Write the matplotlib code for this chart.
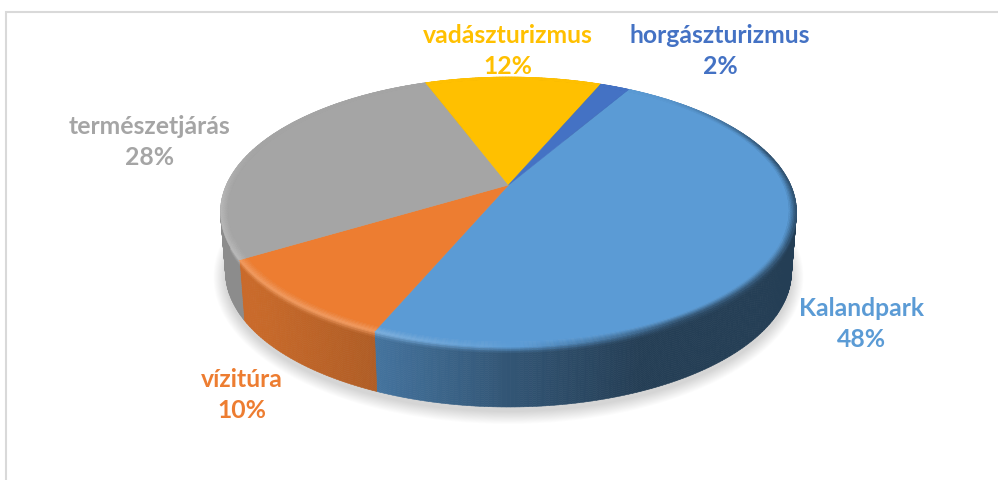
import matplotlib
matplotlib.use('Agg')
import matplotlib.pyplot as plt
from matplotlib.collections import PolyCollection
from matplotlib.colors import to_rgb
from matplotlib.patches import Ellipse
import numpy as np

labels = ['Kalandpark', 'vízitúra', 'természetjárás', 'vadászturizmus', 'horgászturizmus']
values = [48, 10, 28, 12, 2]
colors = ['#5B9BD5', '#ED7D31', '#A5A5A5', '#FFC000', '#4472C4']
label_centers = [(862, 324), (242, 395), (150, 142), (508, 51), (720, 51)]

first_angle = 30  # clockwise from the top
cx, top_cy, top_a, top_b = 508.5, 212, 288, 135
bot_cy, bot_a, bot_b = 272, 283, 135
tilt = 0.2  # perspective, moves the pie centre up on the ellipse
ring = 0.975  # where the bevel starts on the top face


def project(theta, r, cy, a, b):
    # point of the flat disc (clockwise angle in degrees) -> picture pixels
    t = np.radians(theta)
    x, y = r * np.sin(t), r * np.cos(t)
    w = 1 + tilt * y
    return cx + a * x * np.sqrt(1 - tilt ** 2) / w, cy - b * (y + tilt) / w


def rim_shade(theta):
    # how the bevel lights the rim: above 0 highlight, below 0 dark edge
    theta = (theta - 29) % 360 + 29
    return np.interp(theta, [29, 42, 75, 150, 178, 205, 262, 288, 390],
                     [0, -0.05, -0.5, -0.5, 0.0, 0.22, 0.22, 0, 0])


def side_factor(x):
    return np.interp(x, [250, 376, 500, 640], [0.85, 0.74, 0.56, 0.40])


def mix(color, s):
    color = np.array(color)
    if s >= 0:
        return color + (1 - color) * s
    return color * (1 + s)


fig, ax = plt.subplots(figsize=(9.98, 4.8), dpi=100)
ax.set_position([0, 0, 1, 1])
ax.set_xlim(0, 998)
ax.set_ylim(480, 0)
ax.axis('off')

# chart frame
ax.plot([6.5, 6.5, 998], [480, 11.5, 11.5], color='#D9D9D9', lw=1.5, solid_joinstyle='miter')

# soft shadow under the pie
for d in np.linspace(12, 0, 14):
    ax.add_patch(Ellipse((cx, bot_cy + 5), 2 * (bot_a + d), 2 * (bot_b + d),
                         facecolor='black', edgecolor='none', alpha=0.012, zorder=1))

rim_depths = np.linspace(0, 1, 31)
polys, fills = [], []
start = first_angle
for value, color in zip(values, colors):
    end = start + value * 3.6
    rgb = to_rgb(color)
    thetas = np.linspace(start, end, max(int(value * 5), 6))
    for th0, th1 in zip(thetas[:-1], thetas[1:]):
        mid = (th0 + th1) / 2
        # outer wall, cut in bands from the top edge to the bottom edge
        for d0, d1 in zip(rim_depths[:-1], rim_depths[1:]):
            pts = []
            for th, d in [(th0, d0), (th1, d0), (th1, d1), (th0, d1)]:
                xt, yt = project(th, 1, top_cy, top_a, top_b)
                xb, yb = project(th, 1, bot_cy, bot_a, bot_b)
                pts.append((xt + (xb - xt) * d, yt + (yb - yt) * d))
            wall = mix(rgb, side_factor(project(mid, 1, top_cy, top_a, top_b)[0]) - 1)
            edge = mix(rgb, rim_shade(mid))
            blend = np.clip((d0 + d1) / 2 / 0.1, 0, 1)
            polys.append(pts)
            fills.append(edge + (wall - edge) * blend)
    start = end

start = first_angle
for value, color in zip(values, colors):
    end = start + value * 3.6
    rgb = to_rgb(color)
    # flat top face
    thetas = np.linspace(start, end, 200)
    xs, ys = project(thetas, ring, top_cy, top_a, top_b)
    cx0, cy0 = project(0, 0, top_cy, top_a, top_b)
    polys.append(np.column_stack([np.r_[cx0, xs], np.r_[cy0, ys]]))
    fills.append(np.array(rgb))
    # bevel ring round the face
    thetas = np.linspace(start, end, max(int(value * 5), 6))
    radii = np.linspace(ring, 1, 6)
    for th0, th1 in zip(thetas[:-1], thetas[1:]):
        for r0, r1 in zip(radii[:-1], radii[1:]):
            pts = [project(th0, r0, top_cy, top_a, top_b), project(th1, r0, top_cy, top_a, top_b),
                   project(th1, r1, top_cy, top_a, top_b), project(th0, r1, top_cy, top_a, top_b)]
            blend = ((r0 + r1) / 2 - ring) / (1 - ring)
            polys.append(pts)
            fills.append(mix(rgb, rim_shade((th0 + th1) / 2) * blend))
    start = end

ax.add_collection(PolyCollection(polys, facecolors=fills, edgecolors=fills, linewidths=0.4, zorder=2))

for label, value, color, (x, y) in zip(labels, values, colors, label_centers):
    ax.text(x, y, f'{label}\n{value}%', color=color, fontsize=17.8, fontweight='bold', family='Lato',
            ha='center', va='center', linespacing=1.42, zorder=3)

fig.savefig('out.png', dpi=100)
